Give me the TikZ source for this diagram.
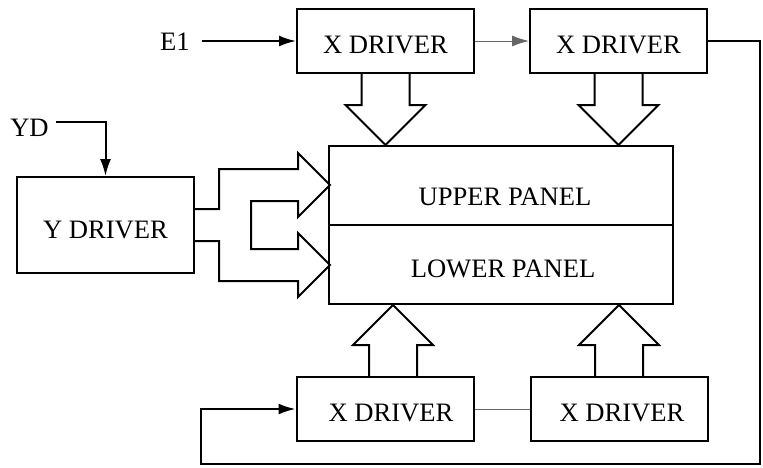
\documentclass[tikz,border=0pt]{standalone}
\usepackage{fontspec}
\setmainfont{Liberation Serif}
\usetikzlibrary{positioning,calc,arrows.meta}

% wide hollow arrow from #1 (open base) to #2 (tip)
\newcommand{\fatarrow}[2]{%
  \coordinate (fa-b) at ($(#2)!20pt!(#1)$);
  \draw[fat] ($(#1)!12pt!90:(#2)$) -- ($(fa-b)!12pt!90:(#2)$) -- ($(fa-b)!20pt!90:(#2)$) -- (#2)
    -- ($(fa-b)!20pt!-90:(#2)$) -- ($(fa-b)!12pt!-90:(#2)$) -- ($(#1)!12pt!-90:(#2)$);
}

\begin{document}
\begin{tikzpicture}[x=0.5pt,y=-0.5pt,
  font=\fontsize{13.3}{15}\selectfont,
  fat/.style={line width=1pt},
  arr/.style={line width=1pt,-{Latex[length=8.5pt,width=5.5pt]}},
  thinlink/.style={line width=0.5pt,draw=black!60},
  driver/.style={rectangle,draw,line width=1pt,inner sep=0pt,
    text height=12pt,text depth=0pt,
    minimum width=88.5pt,minimum height=32pt},
  panel/.style={rectangle,draw,line width=1pt,inner sep=0pt,
    minimum width=172pt,minimum height=79pt}
]
\useasboundingbox (0,0) rectangle (763,467);

% drivers and panel
\node[driver] (XT1) at (385.5,41) {X DRIVER};
\node[driver] (XT2) [right=27pt of XT1] {X DRIVER};
\node[driver] (XB1) at (385,409) {\hspace*{6pt}X DRIVER};
\node[driver] (XB2) [right=27.5pt of XB1] {\hspace*{3pt}X DRIVER};
\node[driver,minimum height=48pt,text height=13pt] (YDRV) at (105.5,225) {Y DRIVER};
\node[panel] (P) at (501,225) {};
\draw[fat] (P.west) -- (P.east);
\node (UPtext) at (505,197) {UPPER PANEL};
\node (LPtext) at (503,269) {LOWER PANEL};

% inputs
\node[inner sep=6pt] (E1) at (175,42) {E1};
\node (YD) at (29.5,128) {YD};
\draw[arr] (E1.east |- XT1) -- (XT1);
\draw[arr] ($(YD.east)+(0,-6)$) -| (YDRV.north);

% links between drivers
\draw[thinlink,-{Latex[length=8.5pt,width=5.5pt]}] (XT1) -- (XT2);
\draw[thinlink] (XB1) -- (XB2);

% feedback from upper right driver to lower left driver
\coordinate (fbR) at (760,464);
\coordinate (fbL) at (201,464);
\draw[arr] (XT2.east) -| (fbR) -- (fbL) |- (XB1.west);

% hollow arrows into the panel
\fatarrow{XT1.south}{XT1.south |- P.north}
\fatarrow{XT2.south}{XT2.south |- P.north}
\coordinate (XB1a) at ($(XB1.north)+(8,0)$);
\fatarrow{XB1a}{XB1a |- P.south}
\fatarrow{XB2.north}{XB2.north |- P.south}

% Y driver outputs
\draw[fat] ($(YDRV.east)+(0,-16)$) -- ++(24,0) -- ++(0,-40) -- ++(79,0) -- ++(0,-16)
  -- ++(32,32) -- ++(-32,32) -- ++(0,-16) -- ++(-47,0) -- ++(0,48) -- ++(47,0)
  -- ++(0,-16) -- ++(32,32) -- ++(-32,32) -- ++(0,-16) -- ++(-79,0) -- ++(0,-40)
  -- ++(-24,0);
\end{tikzpicture}
\end{document}
